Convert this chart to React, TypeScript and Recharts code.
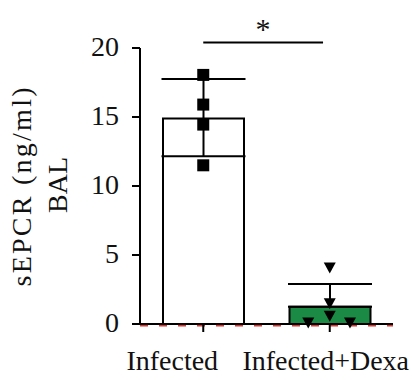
import { Bar, ComposedChart, XAxis, YAxis, ErrorBar, Cell, Scatter, ReferenceLine } from "recharts"

const groups = ["Infected", "Infected+Dexa"]
const means = [14.9, 1.25]
const errors: [number, number][] = [[2.75, 2.85], [0, 1.65]]
const barColors = ["#ffffff", "#1a8a44"]
const yTicks = [0, 5, 10, 15, 20]

// individual animals, x in category units (0.5 = first group centre)
const infectedX = [0.5, 0.5, 0.5, 0.5]
const infectedY = [18.05, 15.9, 14.45, 11.5]
const dexaX = [1.5, 1.5, 1.5, 1.33, 1.66]
const dexaY = [4.1, 1.5, 0.6, 0.1, 0.1]

const font = "'Liberation Serif', 'Times New Roman', serif"

const barData = groups.map((g, i) => ({ name: g, mean: means[i], err: errors[i] }))
const infectedPts = infectedX.map((x, i) => ({ x, y: infectedY[i] }))
const dexaPts = dexaX.map((x, i) => ({ x, y: dexaY[i] }))

const Square = (props: any) => (
    <rect x={props.cx - 6} y={props.cy - 6} width={12} height={12} fill="#000" />
)

const Triangle = (props: any) => (
    <path d={`M${props.cx - 6},${props.cy - 5} L${props.cx + 6},${props.cy - 5} L${props.cx},${props.cy + 6} Z`} fill="#000" />
)

const labelShift = [-31, -4]

const GroupTick = (props: any) => {
    const { x, y, payload, index } = props
    return (
        <text x={x + labelShift[index]} y={y + 36} textAnchor="middle" fontSize={28} style={{ fontFamily: font }} fill="#111">
            {payload.value}
        </text>
    )
}

const NumTick = (props: any) => {
    const { x, y, payload } = props
    return (
        <text x={x} y={y + 8} textAnchor="end" fontSize={28} style={{ fontFamily: font }} fill="#111">
            {payload.value}
        </text>
    )
}

export default function App() {
    return (
        <div style={{ position: "absolute", left: 0, top: 0, width: 412, height: 380, background: "#fff", fontFamily: font }}>
            <ComposedChart width={412} height={380} data={barData} margin={{ top: 48, right: 19, left: 0, bottom: 0 }}>
                <ReferenceLine xAxisId="num" y={-0.08} stroke="#e8302a" strokeWidth={3} strokeDasharray="8 11" ifOverflow="visible" />
                <XAxis
                    xAxisId="cat"
                    dataKey="name"
                    tick={<GroupTick />}
                    tickSize={8}
                    height={56}
                    stroke="#000"
                    strokeWidth={2}
                    interval={0}
                />
                <XAxis xAxisId="num" dataKey="x" type="number" domain={[0, 2]} allowDataOverflow hide />
                <YAxis
                    domain={[0, 20]}
                    ticks={yTicks}
                    width={140}
                    tickSize={8}
                    tickMargin={13}
                    stroke="#000"
                    strokeWidth={2}
                    tick={<NumTick />}
                />
                <Bar xAxisId="cat" dataKey="mean" stroke="#000" strokeWidth={2} barSize={81} isAnimationActive={false}>
                    {barData.map((d, i) => (
                        <Cell key={d.name} fill={barColors[i]} />
                    ))}
                    <ErrorBar dataKey="err" width={42} stroke="#000" strokeWidth={2} direction="y" />
                </Bar>
                <Scatter xAxisId="num" data={infectedPts} dataKey="y" shape={<Square />} isAnimationActive={false} />
                <Scatter xAxisId="num" data={dexaPts} dataKey="y" shape={<Triangle />} isAnimationActive={false} />
                <ReferenceLine
                    xAxisId="num"
                    segment={[{ x: 0.5, y: 20.4 }, { x: 1.447, y: 20.4 }]}
                    stroke="#000"
                    strokeWidth={2}
                    ifOverflow="visible"
                />
            </ComposedChart>
            <svg width={412} height={380} style={{ position: "absolute", left: 0, top: 0, pointerEvents: "none" }}>
                <text x={263} y={39} textAnchor="middle" fontSize={30} style={{ fontFamily: font }} fill="#111">*</text>
                <text transform="rotate(-90)" fontSize={28} style={{ fontFamily: font }} fill="#111" textAnchor="middle">
                    <tspan x={-187} y={31} textLength={199} lengthAdjust="spacing">sEPCR (ng/ml)</tspan>
                    <tspan x={-185} y={67}>BAL</tspan>
                </text>
            </svg>
        </div>
    )
}
